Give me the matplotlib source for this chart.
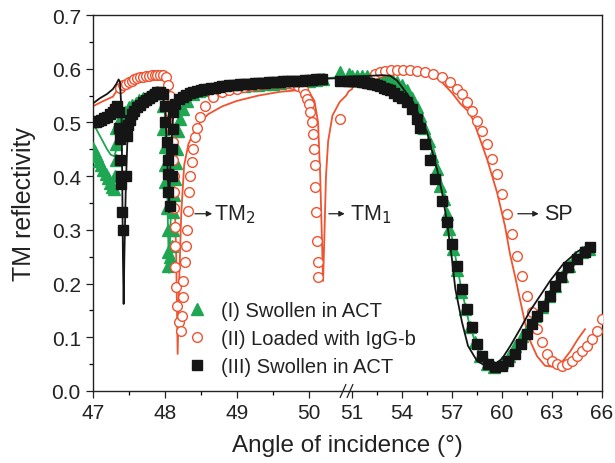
import numpy as np
import matplotlib
matplotlib.use("Agg")
import matplotlib.pyplot as plt

plt.rcParams['font.family'] = ['Liberation Sans', 'DejaVu Sans']

# ---------------- data ----------------
# (I) Swollen in ACT  - green triangles
xI = [47.00, 47.03, 47.06, 47.09, 47.12, 47.15, 47.18, 47.21, 47.24, 47.27, 47.30,
      47.31, 47.32, 47.32, 47.33, 47.36, 47.40, 47.45, 47.50, 47.55, 47.60, 47.65,
      47.70, 47.75, 47.80, 47.85, 47.90, 47.95, 47.97, 47.98, 48.00, 48.00, 48.01,
      48.03, 48.04, 48.05, 48.05, 48.08, 48.10, 48.11, 48.12, 48.13, 48.14, 48.16,
      48.17, 48.19, 48.21, 48.25, 48.31, 48.39, 48.48, 48.58, 48.68, 48.78, 48.90,
      49.00, 49.10, 49.20, 49.30, 49.40, 49.50, 49.60, 49.70, 49.80, 49.90, 50.00,
      50.10, 50.20, 50.43,
      50.80, 51.00, 51.30, 51.60, 51.90, 52.20, 52.50, 52.80, 53.10, 53.40, 53.70,
      54.00, 54.30, 54.60, 54.90, 55.10, 55.35, 55.60, 55.80, 56.10, 56.30, 56.50,
      56.70, 56.85, 57.05, 57.30, 57.55, 57.80, 58.10, 58.40, 58.70, 59.10, 59.50,
      60.00, 60.40, 60.80, 61.20, 61.60, 62.00, 62.40, 62.80, 63.20, 63.60, 64.00,
      64.40, 64.80, 65.20]
yI = [0.452, 0.445, 0.437, 0.428, 0.420, 0.412, 0.404, 0.396, 0.388, 0.380, 0.376,
      0.400, 0.430, 0.460, 0.490, 0.500, 0.510, 0.520, 0.528, 0.533, 0.537, 0.541,
      0.545, 0.548, 0.551, 0.554, 0.556, 0.555, 0.530, 0.488, 0.454, 0.420, 0.390,
      0.340, 0.300, 0.259, 0.233, 0.250, 0.270, 0.300, 0.333, 0.365, 0.395, 0.425,
      0.450, 0.484, 0.506, 0.525, 0.540, 0.553, 0.558, 0.561, 0.563, 0.565, 0.566,
      0.567, 0.568, 0.569, 0.570, 0.571, 0.572, 0.574, 0.575, 0.576, 0.577, 0.578,
      0.579, 0.580, 0.594,
      0.590, 0.586, 0.586, 0.586, 0.586, 0.586, 0.586, 0.585, 0.583, 0.580, 0.576,
      0.570, 0.560, 0.546, 0.528, 0.512, 0.490, 0.466, 0.438, 0.413, 0.382, 0.357,
      0.330, 0.302, 0.264, 0.225, 0.184, 0.153, 0.119, 0.091, 0.065, 0.050, 0.045,
      0.054, 0.065, 0.084, 0.102, 0.121, 0.140, 0.156, 0.177, 0.196, 0.214, 0.233,
      0.250, 0.259, 0.265]

# (II) Loaded with IgG-b - red open circles
xII = [47.38, 47.42, 47.46, 47.50, 47.54, 47.58, 47.62, 47.66, 47.70, 47.74, 47.78,
       47.82, 47.86, 47.90, 47.94, 47.98, 48.02, 48.05, 48.07, 48.08, 48.09, 48.11,
       48.12, 48.125, 48.13, 48.135, 48.14, 48.14, 48.15, 48.16, 48.17, 48.20, 48.23,
       48.24, 48.255, 48.26, 48.28, 48.29, 48.31, 48.33, 48.34, 48.35, 48.38, 48.39,
       48.42, 48.45, 48.49, 48.56, 48.67, 48.80, 48.90, 49.00, 49.10, 49.20, 49.30,
       49.40, 49.50, 49.60, 49.70, 49.78, 49.85, 49.92, 49.95, 49.98, 50.00, 50.02,
       50.05, 50.06, 50.07, 50.09, 50.09, 50.10, 50.12, 50.13, 50.13, 50.43,
       52.40, 52.70, 53.00, 53.35, 53.70, 54.06, 54.48, 54.90, 55.38, 55.86, 56.40,
       56.88, 57.30, 57.60, 57.90, 58.20, 58.50, 58.80, 59.10, 59.40, 59.70, 60.00,
       60.30, 60.60, 60.90, 61.20, 61.50, 61.80, 62.10, 62.40, 62.70, 63.00, 63.30,
       63.60, 63.90, 64.20, 64.50, 64.80, 65.10, 65.40, 65.70, 66.00]
yII = [0.565, 0.569, 0.572, 0.575, 0.578, 0.580, 0.582, 0.584, 0.585, 0.586, 0.587,
       0.588, 0.589, 0.589, 0.589, 0.589, 0.585, 0.570, 0.550, 0.520, 0.490, 0.464,
       0.430, 0.400, 0.370, 0.340, 0.305, 0.270, 0.231, 0.194, 0.158, 0.128, 0.112,
       0.140, 0.175, 0.205, 0.240, 0.270, 0.300, 0.335, 0.370, 0.400, 0.426, 0.450,
       0.473, 0.490, 0.510, 0.530, 0.548, 0.556, 0.560, 0.563, 0.566, 0.568, 0.570,
       0.572, 0.573, 0.574, 0.574, 0.572, 0.568, 0.562, 0.553, 0.544, 0.534, 0.520,
       0.500, 0.478, 0.450, 0.420, 0.380, 0.333, 0.280, 0.240, 0.212, 0.506,
       0.590, 0.593, 0.596, 0.598, 0.598, 0.597, 0.597, 0.596, 0.594, 0.590, 0.585,
       0.575, 0.562, 0.553, 0.538, 0.521, 0.503, 0.484, 0.460, 0.432, 0.404, 0.367,
       0.330, 0.292, 0.251, 0.214, 0.177, 0.147, 0.115, 0.091, 0.069, 0.056, 0.050,
       0.047, 0.050, 0.056, 0.065, 0.074, 0.084, 0.097, 0.112, 0.134]

# (III) Swollen in ACT - black squares
xIII = [47.00, 47.04, 47.08, 47.12, 47.16, 47.20, 47.24, 47.28, 47.31, 47.34, 47.36,
        47.37, 47.38, 47.38, 47.39, 47.39, 47.41, 47.42, 47.46, 47.47, 47.49, 47.52,
        47.55, 47.58, 47.62, 47.66, 47.70, 47.74, 47.78, 47.82, 47.86, 47.90, 47.94,
        47.97, 48.00, 48.00, 48.03, 48.05, 48.05, 48.05, 48.07, 48.10, 48.10, 48.11,
        48.12, 48.15, 48.20, 48.25, 48.30, 48.35, 48.40, 48.45, 48.50, 48.55, 48.60,
        48.65, 48.70, 48.75, 48.80, 48.85, 48.90, 48.95, 49.00, 49.05, 49.10, 49.15,
        49.20, 49.25, 49.30, 49.35, 49.40, 49.45, 49.50, 49.55, 49.60, 49.65, 49.70,
        49.75, 49.80, 49.85, 49.90, 49.95, 50.00, 50.05, 50.10, 50.15, 50.19, 50.43,
        50.78, 50.90, 51.00, 51.15, 51.30, 51.45, 51.60, 51.75, 51.90, 52.05, 52.20,
        52.35, 52.50, 52.68, 52.90, 53.10, 53.28, 53.50, 53.76, 54.00, 54.30, 54.60,
        54.90, 55.10, 55.40, 55.70, 56.00, 56.40, 56.70, 57.00, 57.30, 57.60, 57.90,
        58.20, 58.50, 58.80, 59.15, 59.55, 60.00, 60.35, 60.75, 61.15, 61.50, 61.80,
        62.10, 62.45, 62.85, 63.15, 63.55, 63.95, 64.50, 64.95, 65.25]
yIII = [0.500, 0.501, 0.503, 0.505, 0.508, 0.511, 0.515, 0.520, 0.525, 0.530, 0.520,
        0.490, 0.470, 0.430, 0.400, 0.385, 0.333, 0.300, 0.400, 0.475, 0.495, 0.505,
        0.515, 0.522, 0.528, 0.533, 0.538, 0.542, 0.546, 0.550, 0.553, 0.556, 0.557,
        0.553, 0.530, 0.500, 0.464, 0.430, 0.404, 0.370, 0.345, 0.400, 0.450, 0.488,
        0.520, 0.535, 0.543, 0.548, 0.552, 0.555, 0.557, 0.559, 0.561, 0.562, 0.563,
        0.564, 0.565, 0.566, 0.567, 0.568, 0.569, 0.569, 0.570, 0.571, 0.571, 0.572,
        0.572, 0.573, 0.573, 0.574, 0.574, 0.575, 0.575, 0.576, 0.576, 0.577, 0.577,
        0.577, 0.578, 0.578, 0.578, 0.579, 0.579, 0.579, 0.580, 0.580, 0.580, 0.577,
        0.578, 0.578, 0.578, 0.578, 0.577, 0.577, 0.576, 0.575, 0.574, 0.573, 0.572,
        0.571, 0.570, 0.568, 0.565, 0.562, 0.560, 0.555, 0.550, 0.545, 0.538, 0.525,
        0.507, 0.490, 0.460, 0.430, 0.395, 0.354, 0.315, 0.274, 0.233, 0.190, 0.153,
        0.120, 0.088, 0.065, 0.050, 0.044, 0.047, 0.056, 0.069, 0.087, 0.106, 0.125,
        0.140, 0.158, 0.177, 0.196, 0.212, 0.230, 0.246, 0.259, 0.268]

# fitted curves
fit_xI = [47.00, 47.10, 47.20, 47.25, 47.30, 47.33, 47.36, 47.40, 47.50, 47.70, 47.90,
          47.97, 48.00, 48.03, 48.06, 48.09, 48.13, 48.20, 48.30, 48.50, 48.80, 49.20,
          49.60, 50.00, 50.50, 50.80, 51.50, 52.50, 53.00, 53.50, 54.00, 54.50, 55.00,
          55.50, 56.00, 56.50, 57.00, 57.50, 58.00, 58.50, 59.00, 59.40, 59.80, 60.30,
          61.00, 61.50, 62.00, 62.50, 63.00, 63.50, 64.00, 64.50, 65.20]
fit_yI = [0.500, 0.475, 0.450, 0.440, 0.437, 0.450, 0.490, 0.510, 0.525, 0.540, 0.552,
          0.550, 0.520, 0.400, 0.220, 0.350, 0.460, 0.510, 0.535, 0.553, 0.563, 0.570,
          0.575, 0.580, 0.585, 0.588, 0.589, 0.589, 0.587, 0.582, 0.572, 0.555, 0.528,
          0.490, 0.440, 0.370, 0.285, 0.200, 0.130, 0.080, 0.050, 0.042, 0.045, 0.058,
          0.088, 0.112, 0.137, 0.160, 0.182, 0.203, 0.222, 0.240, 0.258]

fit_xII = [47.00, 47.15, 47.28, 47.35, 47.40, 47.50, 47.70, 47.90, 48.00, 48.06, 48.10,
           48.13, 48.16, 48.18, 48.20, 48.23, 48.27, 48.33, 48.45, 48.60, 48.80, 49.00,
           49.30, 49.60, 49.85, 50.00, 50.08, 50.13, 50.16, 50.18, 50.20, 50.22, 50.24,
           50.27, 50.33, 50.43, 50.52, 50.80, 51.00, 51.10, 51.30, 51.60, 52.00, 52.50,
           53.00, 53.50, 54.00, 54.50, 55.00, 55.50, 56.00, 56.30, 56.70, 57.00, 57.50,
           58.00, 58.26, 58.68, 59.10, 59.70, 60.18, 60.48, 60.78, 61.20, 61.56, 62.10,
           62.58, 63.06, 63.60, 64.08, 64.56, 64.98]
fit_yII = [0.530, 0.540, 0.548, 0.562, 0.570, 0.578, 0.586, 0.590, 0.590, 0.580, 0.520,
           0.400, 0.250, 0.069, 0.200, 0.330, 0.420, 0.460, 0.494, 0.515, 0.530, 0.540,
           0.550, 0.557, 0.560, 0.558, 0.540, 0.500, 0.400, 0.300, 0.205, 0.300, 0.400,
           0.465, 0.513, 0.538, 0.550, 0.558, 0.562, 0.570, 0.575, 0.580, 0.587, 0.593,
           0.597, 0.599, 0.600, 0.600, 0.599, 0.595, 0.585, 0.578, 0.565, 0.555, 0.535,
           0.520, 0.505, 0.469, 0.432, 0.370, 0.307, 0.255, 0.214, 0.153, 0.102, 0.065,
           0.047, 0.045, 0.054, 0.073, 0.097, 0.115]

fit_xIII = [47.00, 47.10, 47.20, 47.28, 47.33, 47.36, 47.38, 47.40, 47.41, 47.42, 47.43,
            47.44, 47.46, 47.48, 47.52, 47.60, 47.70, 47.80, 47.90, 47.97, 48.01, 48.03,
            48.05, 48.06, 48.07, 48.09, 48.12, 48.18, 48.30, 48.50, 48.80, 49.20, 49.60,
            50.00, 50.50, 50.80, 51.50, 52.20, 52.80, 53.28, 53.70, 54.10, 54.66, 55.00,
            55.50, 56.10, 56.40, 56.70, 57.00, 57.20, 57.60, 57.96, 58.50, 59.00, 59.46,
            60.00, 60.50, 61.08, 61.68, 62.28, 62.88, 63.66, 64.50, 65.28]
fit_yIII = [0.535, 0.545, 0.553, 0.562, 0.572, 0.580, 0.575, 0.520, 0.400, 0.250, 0.162,
            0.250, 0.380, 0.460, 0.505, 0.528, 0.540, 0.550, 0.557, 0.555, 0.520, 0.450,
            0.380, 0.333, 0.380, 0.460, 0.515, 0.540, 0.553, 0.561, 0.567, 0.572, 0.577,
            0.580, 0.583, 0.584, 0.586, 0.587, 0.588, 0.587, 0.578, 0.562, 0.538, 0.515,
            0.482, 0.413, 0.370, 0.315, 0.245, 0.190, 0.128, 0.084, 0.056, 0.047, 0.047,
            0.060, 0.084, 0.115, 0.149, 0.177, 0.205, 0.236, 0.259, 0.274]

labels = ["(I) Swollen in ACT", "(II) Loaded with IgG-b", "(III) Swollen in ACT"]
xticks_major = [47, 48, 49, 50, 51, 54, 57, 60, 63, 66]
xticks_minor = [47.5, 48.5, 49.5, 52.5, 55.5, 58.5, 61.5, 64.5]

GREEN = '#1fa653'
RED = '#ef5330'
BLACK = '#151515'

# ---------------- broken x scale ----------------
XB1, UB1 = 50.52, 3.52
XB2 = 50.75
R = 0.2315
UB2 = 3.601 - (51 - XB2) * R


def fwd(x):
    x = np.asarray(x, dtype=float)
    return np.where(x <= XB1, x - 47.0,
                    np.where(x >= XB2, UB2 + (x - XB2) * R,
                             UB1 + (x - XB1) * (UB2 - UB1) / (XB2 - XB1)))


def inv(u):
    u = np.asarray(u, dtype=float)
    return np.where(u <= UB1, u + 47.0,
                    np.where(u >= UB2, XB2 + (u - UB2) / R,
                             XB1 + (u - UB1) * (XB2 - XB1) / (UB2 - UB1)))


fig = plt.figure(figsize=(6.15, 4.64), dpi=100)
ax = fig.add_axes([0.1507, 0.1552, 0.8282, 0.8103])
ax.set_xscale('function', functions=(fwd, inv))

ax.plot(fit_xII, fit_yII, color=RED, lw=1.3, zorder=2)
ax.plot(fit_xI, fit_yI, color=GREEN, lw=1.3, zorder=2)
ax.plot(xI, yI, ls='none', marker='^', ms=8, color=GREEN, mec=GREEN, zorder=3, label=labels[0])
ax.plot(xII, yII, ls='none', marker='o', ms=7, mfc='white', mec=RED, mew=1.0, zorder=4, label=labels[1])
ax.plot(xIII, yIII, ls='none', marker='s', ms=6.5, color=BLACK, mec=BLACK, zorder=5, label=labels[2])
ax.plot(fit_xIII, fit_yIII, color=BLACK, lw=1.3, zorder=6)

ax.set_xlim(47, 66)
ax.set_ylim(0, 0.7)
ax.set_xticks(xticks_major)
ax.set_xticks(xticks_minor, minor=True)
ax.set_xticklabels([str(t) for t in xticks_major])
ax.set_yticks(np.arange(0, 0.71, 0.1))
ax.set_yticks(np.arange(0.05, 0.7, 0.1), minor=True)
ax.yaxis.set_major_formatter(matplotlib.ticker.FormatStrFormatter('%.1f'))
ax.tick_params(which='major', direction='out', length=5, width=0.9, labelsize=15, colors='#222222')
ax.tick_params(which='minor', direction='out', length=3, width=0.9)
for s in ax.spines.values():
    s.set_linewidth(1.0)
    s.set_color('#222222')

ax.set_xlabel('Angle of incidence (°)', fontsize=17.5, color='#222222', labelpad=9)
ax.set_ylabel('TM reflectivity', fontsize=18, color='#222222', labelpad=11)

# break marks on x axis
for fx in (0.4915, 0.5052):
    ax.plot([fx - 0.0055, fx + 0.0055], [-0.017, 0.017], transform=ax.transAxes,
            color='#222222', lw=0.9, clip_on=False, zorder=10)

# annotations
arrow = dict(arrowstyle='-|>', color='#222222', lw=0.9, mutation_scale=8, shrinkA=0, shrinkB=0)
ax.annotate('', xy=(48.66, 0.33), xytext=(48.42, 0.33), arrowprops=arrow)
ax.text(48.69, 0.33, 'TM$_2$', fontsize=15.5, va='center', ha='left', color='#222222')
ax.annotate('', xy=(50.50, 0.33), xytext=(50.28, 0.33), arrowprops=arrow)
ax.text(50.88, 0.33, 'TM$_1$', fontsize=15.5, va='center', ha='left', color='#222222')
ax.annotate('', xy=(62.2, 0.33), xytext=(60.95, 0.33), arrowprops=arrow)
ax.text(62.55, 0.33, 'SP', fontsize=15.5, va='center', ha='left', color='#222222')

leg = ax.legend(loc='upper left', bbox_to_anchor=(0.185, 0.24), frameon=False,
                fontsize=14.5, handlelength=1.0, handletextpad=0.7, labelspacing=0.45,
                borderaxespad=0, borderpad=0)
for t in leg.get_texts():
    t.set_color('#222222')

fig.savefig('out.png', dpi=100)
